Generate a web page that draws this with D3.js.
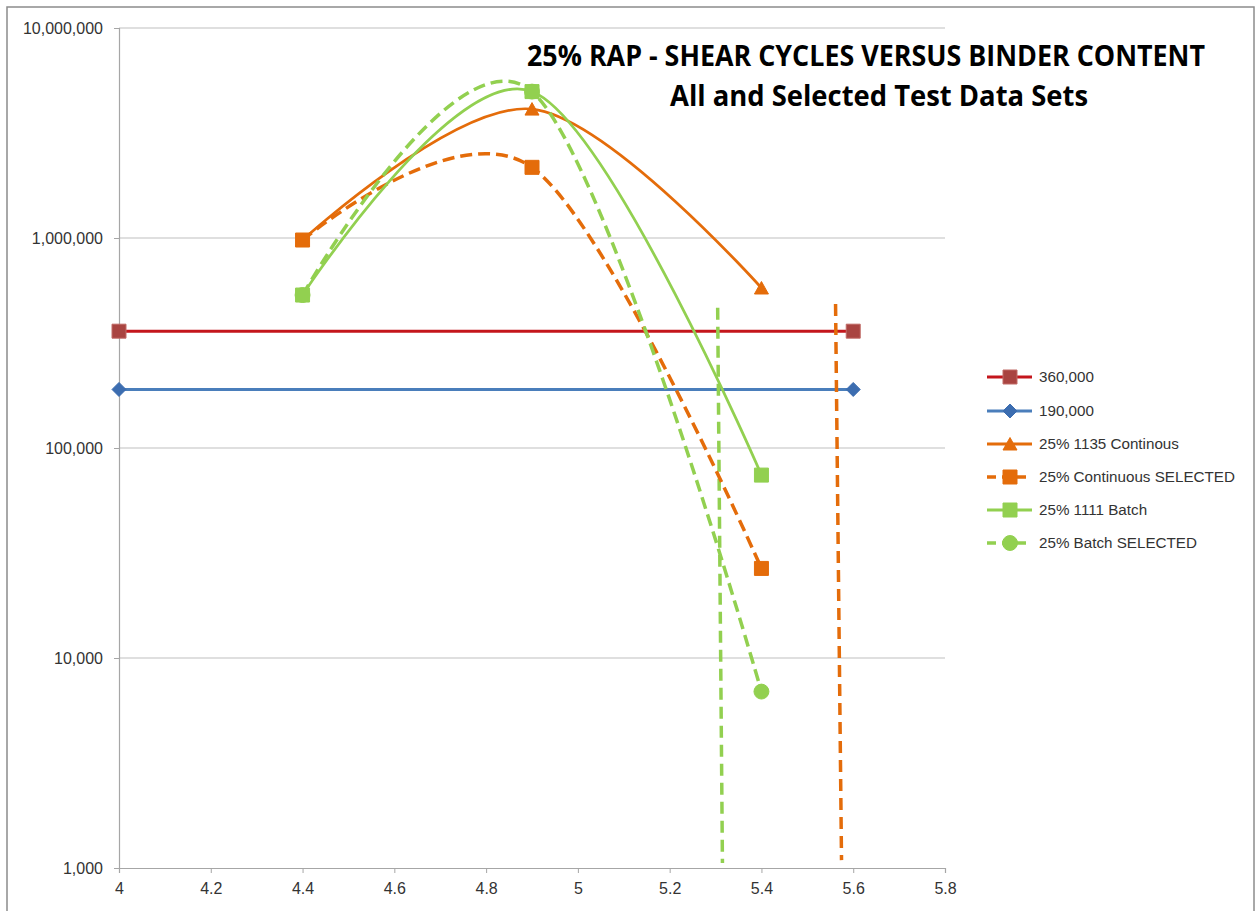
<!DOCTYPE html>
<html>
<head>
<meta charset="utf-8">
<script src="https://cdn.jsdelivr.net/npm/d3@7"></script>
<style>
  html, body { margin: 0; padding: 0; background: #fff; }
  svg { display: block; }
</style>
</head>
<body>
<svg id="chart" width="1255" height="911"></svg>
<script>
// ---------- DATA ----------
const titleLines = ["25% RAP - SHEAR CYCLES VERSUS BINDER CONTENT", "All and Selected Test Data Sets"];
const xTicks = [4, 4.2, 4.4, 4.6, 4.8, 5, 5.2, 5.4, 5.6, 5.8];
const yTicks = [1000, 10000, 100000, 1000000, 10000000];

const thresholdX = [4, 5.6];
const threshold360 = [360000, 360000];
const threshold190 = [190000, 190000];

const binderX = [4.4, 4.9, 5.4];
const continuous1135 = [978000, 4110000, 578000];
const continuousSelected = [978000, 2170000, 26700];
const batch1111 = [535000, 4980000, 74300];
const batchSelected = [535000, 4980000, 6920];

// vertical marker lines (not in legend)
const greenVertX = [5.3046, 5.315];
const greenVertY = [465000, 1057];
const orangeVertX = [5.5615, 5.5745];
const orangeVertY = [485000, 1090];

const legendLabels = ["360,000", "190,000", "25% 1135 Continous", "25% Continuous SELECTED", "25% 1111 Batch", "25% Batch SELECTED"];

// ---------- STYLE ----------
const ORANGE = "#E46C0A", GREEN = "#92D050", RED = "#C4161C", RED_MK = "#A94441", BLUE = "#4A7EBB", BLUE_MK = "#3C6DB0";

const svg = d3.select("#chart");
const x = d3.scaleLinear().domain([4, 5.8]).range([119, 945]);
const y = d3.scaleLog().domain([1000, 10000000]).range([868, 28]);

// outer border
svg.append("rect").attr("x", 7).attr("y", 7).attr("width", 1247).attr("height", 910)
  .attr("fill", "none").attr("stroke", "#8c8c8c").attr("stroke-width", 1.5);

// gridlines
svg.append("g").selectAll("line").data(yTicks.slice(1)).join("line")
  .attr("x1", x(4)).attr("x2", x(5.8))
  .attr("y1", d => y(d)).attr("y2", d => y(d))
  .attr("stroke", "#BFBFBF").attr("stroke-width", 1);

// axes
const fmt = d3.format(",");
const yAxis = d3.axisLeft(y).tickValues(yTicks).tickFormat(fmt).tickSize(5).tickPadding(11);
const gy = svg.append("g").attr("transform", `translate(${x(4)},0)`).call(yAxis);
const xAxis = d3.axisBottom(x).tickValues(xTicks).tickFormat(d3.format("")).tickSize(5).tickPadding(10);
const gx = svg.append("g").attr("transform", `translate(0,${y(1000)})`).call(xAxis);
[gx, gy].forEach(g => {
  g.select(".domain").attr("stroke", "#A6A6A6").attr("stroke-width", 1.2);
  g.selectAll(".tick line").attr("stroke", "#A6A6A6");
  g.selectAll(".tick text").attr("font-family", "'Liberation Sans', Arial, sans-serif")
    .attr("font-size", 16).attr("fill", "#333");
});

// ---------- SERIES ----------
const smooth = d3.line().x(d => x(d[0])).y(d => y(d[1])).curve(d3.curveCardinal.tension(0));
const straight = d3.line().x(d => x(d[0])).y(d => y(d[1]));
const zip = (xs, ys) => xs.map((v, i) => [v, ys[i]]);

function marker(g, type, cx, cy, fill, stroke) {
  let d;
  if (type === "square") d = "M-7,-7H7V7H-7Z";
  else if (type === "diamond") d = "M0,-7L7,0L0,7L-7,0Z";
  else if (type === "triangle") d = "M0,-6.5L7,6L-7,6Z";
  else d = d3.symbol(d3.symbolCircle, 175)();
  g.append("path").attr("d", d).attr("transform", `translate(${cx},${cy})`)
    .attr("fill", fill).attr("stroke", stroke).attr("stroke-width", 1);
}

const series = [
  { name: legendLabels[0], data: zip(thresholdX, threshold360), color: RED, mk: "square", mkFill: RED_MK, mkStroke: "#C06A66", width: 3, dash: null, smooth: false },
  { name: legendLabels[1], data: zip(thresholdX, threshold190), color: BLUE, mk: "diamond", mkFill: BLUE_MK, mkStroke: BLUE_MK, width: 3, dash: null, smooth: false },
  { name: null, data: zip(greenVertX, greenVertY), color: GREEN, mk: null, width: 3.5, dash: "12,7", smooth: false },
  { name: null, data: zip(orangeVertX, orangeVertY), color: ORANGE, mk: null, width: 3.5, dash: "12,7", smooth: false },
  { name: legendLabels[2], data: zip(binderX, continuous1135), color: ORANGE, mk: "triangle", mkFill: ORANGE, mkStroke: ORANGE, width: 2.75, dash: null, smooth: true },
  { name: legendLabels[3], data: zip(binderX, continuousSelected), color: ORANGE, mk: "square", mkFill: ORANGE, mkStroke: ORANGE, width: 3.5, dash: "12,6", smooth: true },
  { name: legendLabels[5], data: zip(binderX, batchSelected), color: GREEN, mk: "circle", mkFill: GREEN, mkStroke: GREEN, width: 3.5, dash: "12,6", smooth: true },
  { name: legendLabels[4], data: zip(binderX, batch1111), color: GREEN, mk: "square", mkFill: GREEN, mkStroke: GREEN, width: 2.75, dash: null, smooth: true },
];

const plot = svg.append("g");
series.forEach(s => {
  const g = plot.append("g");
  g.append("path").attr("d", (s.smooth ? smooth : straight)(s.data))
    .attr("fill", "none").attr("stroke", s.color).attr("stroke-width", s.width)
    .attr("stroke-dasharray", s.dash).attr("stroke-linecap", s.dash ? "butt" : "round");
  if (s.mk) s.data.forEach(d => marker(g, s.mk, x(d[0]), y(d[1]), s.mkFill, s.mkStroke));
});

// ---------- LEGEND ----------
const legendOrder = [0, 1, 4, 5, 7, 6];
const legY = [377, 411, 444, 477, 510, 543];
const leg = svg.append("g");
legendOrder.forEach((si, i) => {
  const s = series[si];
  const ly = legY[i];
  leg.append("line").attr("x1", 987).attr("x2", 1032).attr("y1", ly).attr("y2", ly)
    .attr("stroke", s.color).attr("stroke-width", s.dash ? 3.5 : 3)
    .attr("stroke-dasharray", s.dash ? "9,6" : null);
  marker(leg, s.mk, 1010, ly, s.mkFill, s.mkStroke);
  leg.append("text").attr("x", 1039).attr("y", ly).attr("dy", "0.35em")
    .attr("font-family", "'Liberation Sans', Arial, sans-serif").attr("font-size", 15.2)
    .attr("fill", "#333").text(s.name);
});

// ---------- TITLE ----------
svg.append("text").attr("x", 866).attr("y", 66).attr("text-anchor", "middle")
  .attr("font-family", "'Open Sans', 'Liberation Sans', sans-serif").attr("font-weight", "bold")
  .attr("font-size", 28).attr("fill", "#000")
  .attr("textLength", 678).attr("lengthAdjust", "spacingAndGlyphs").text(titleLines[0]);
svg.append("text").attr("x", 879).attr("y", 106).attr("text-anchor", "middle")
  .attr("font-family", "'Open Sans', 'Liberation Sans', sans-serif").attr("font-weight", "bold")
  .attr("font-size", 28).attr("fill", "#000")
  .attr("textLength", 418).attr("lengthAdjust", "spacingAndGlyphs").text(titleLines[1]);
</script>
</body>
</html>
